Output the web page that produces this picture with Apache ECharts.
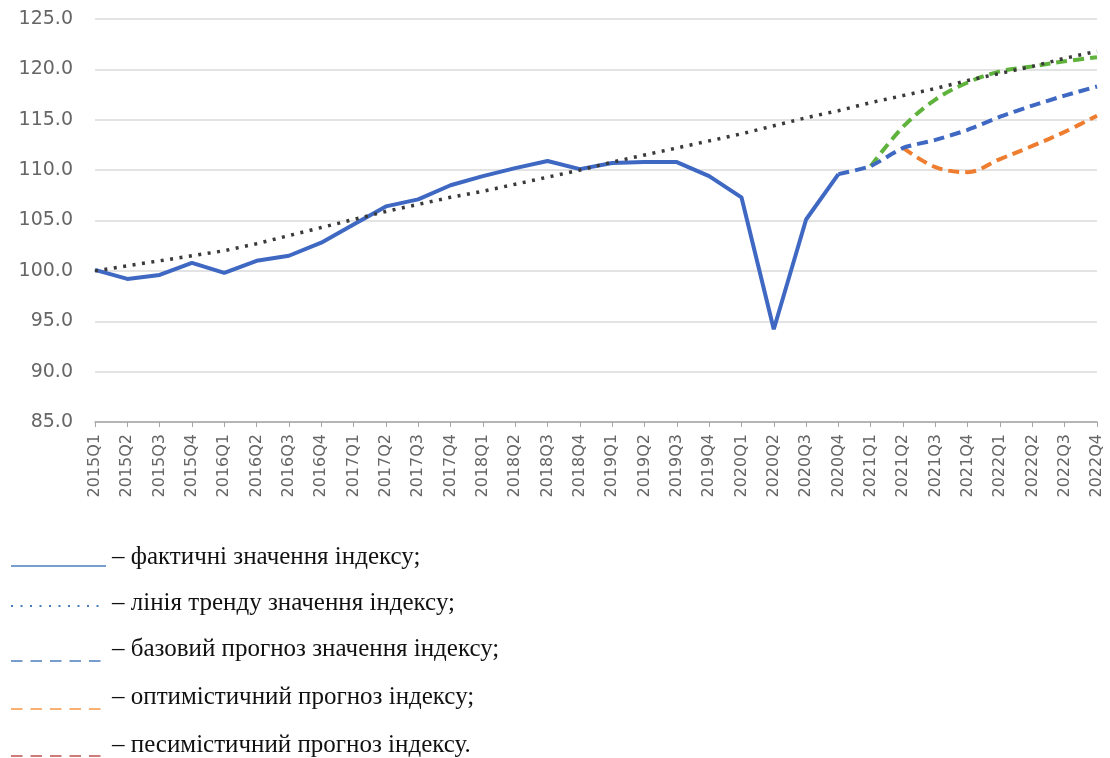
<!DOCTYPE html>
<html>
<head>
<meta charset="utf-8">
<script src="https://cdn.jsdelivr.net/npm/echarts@6/dist/echarts.min.js"></script>
<style>
  html, body { margin: 0; padding: 0; background: #fff; }
  #chart { width: 1110px; height: 758px; }
</style>
</head>
<body>
<div id="chart"></div>
<script>
var quarters = ['2015Q1','2015Q2','2015Q3','2015Q4','2016Q1','2016Q2','2016Q3','2016Q4',
  '2017Q1','2017Q2','2017Q3','2017Q4','2018Q1','2018Q2','2018Q3','2018Q4',
  '2019Q1','2019Q2','2019Q3','2019Q4','2020Q1','2020Q2','2020Q3','2020Q4',
  '2021Q1','2021Q2','2021Q3','2021Q4','2022Q1','2022Q2','2022Q3','2022Q4'];

// фактичні значення
var actual = [100.1, 99.2, 99.6, 100.8, 99.8, 101.0, 101.5, 102.8,
  104.6, 106.4, 107.1, 108.5, 109.4, 110.2, 110.9, 110.1,
  110.7, 110.8, 110.8, 109.4, 107.3, 94.2, 105.1, 109.6,
  null, null, null, null, null, null, null, null];

// лінія тренду
var trend = [100.0, 100.5, 101.0, 101.5, 102.0, 102.7, 103.5, 104.3,
  105.1, 105.9, 106.6, 107.3, 107.9, 108.6, 109.3, 110.0,
  110.8, 111.5, 112.2, 112.9, 113.6, 114.4, 115.2, 115.9,
  116.7, 117.4, 118.1, 118.9, 119.6, 120.3, 121.1, 121.8];

// базовий прогноз
var baseFc = [null, null, null, null, null, null, null, null,
  null, null, null, null, null, null, null, null,
  null, null, null, null, null, null, null, 109.6,
  110.4, 112.2, 113.0, 114.0, 115.3, 116.4, 117.4, 118.3];

// верхній (зелений) прогноз
var greenFc = [null, null, null, null, null, null, null, null,
  null, null, null, null, null, null, null, null,
  null, null, null, null, null, null, null, null,
  110.4, 114.3, 117.0, 118.7, 119.8, 120.3, 120.8, 121.2];

// нижній (помаранчевий) прогноз
var orangeFc = [null, null, null, null, null, null, null, null,
  null, null, null, null, null, null, null, null,
  null, null, null, null, null, null, null, null,
  null, 112.2, 110.3, 109.8, 111.1, 112.4, 113.8, 115.4];

var legendTexts = [
  '– фактичні значення індексу;',
  '– лінія тренду значення індексу;',
  '– базовий прогноз значення індексу;',
  '– оптимістичний прогноз індексу;',
  '– песимістичний прогноз індексу.'
];

var chart = echarts.init(document.getElementById('chart'));

// легенда знизу — малюється вручну, як у документі
var legendRows = [
  {lineY: 566, textY: 557, color: '#4a7ebb', dash: null},
  {lineY: 606, textY: 603, color: '#4a7ebb', dash: [2, 7.5]},
  {lineY: 661, textY: 649, color: '#4a7ebb', dash: [11.5, 8]},
  {lineY: 709, textY: 697, color: '#f79646', dash: [11.5, 8]},
  {lineY: 756, textY: 745, color: '#c0504d', dash: [11.5, 8]}
];
var graphics = [];
legendRows.forEach(function (r, i) {
  graphics.push({
    type: 'line',
    shape: {x1: 11, y1: r.lineY, x2: 106, y2: r.lineY},
    style: {stroke: r.color, lineWidth: i === 1 ? 2 : 1.5, lineDash: r.dash}
  });
  graphics.push({
    type: 'text',
    x: 112,
    y: r.textY,
    style: {
      text: legendTexts[i],
      fill: '#111',
      fontFamily: '"Liberation Serif", serif',
      fontSize: 25,
      verticalAlign: 'middle'
    }
  });
});

chart.setOption({
  backgroundColor: '#fff',
  animation: false,
  grid: {left: 95, right: 13, top: 19, bottom: 336},
  xAxis: {
    type: 'category',
    data: quarters,
    boundaryGap: false,
    axisLine: {lineStyle: {color: '#a6a6a6', width: 1.5}},
    axisTick: {show: true, length: 5, lineStyle: {color: '#a6a6a6'}},
    axisLabel: {
      rotate: 90,
      interval: 0,
      margin: 12,
      color: '#666',
      fontSize: 16,
      fontFamily: 'DejaVu Sans'
    },
    splitLine: {show: false}
  },
  yAxis: {
    type: 'value',
    min: 85,
    max: 125,
    interval: 5,
    axisLine: {show: false},
    axisTick: {show: false},
    axisLabel: {
      margin: 22,
      color: '#666',
      fontSize: 19,
      fontFamily: 'DejaVu Sans',
      formatter: function (v) { return v.toFixed(1); }
    },
    splitLine: {lineStyle: {color: '#dadada', width: 1.5}}
  },
  series: [
    {
      name: 'green',
      type: 'line',
      data: greenFc,
      smooth: 0.35,
      showSymbol: false,
      lineStyle: {color: '#5fb33c', width: 4, type: [11, 6]},
      z: 2
    },
    {
      name: 'orange',
      type: 'line',
      data: orangeFc,
      smooth: 0.35,
      showSymbol: false,
      lineStyle: {color: '#ee7d30', width: 4, type: [11, 6]},
      z: 2
    },
    {
      name: 'base',
      type: 'line',
      data: baseFc,
      smooth: 0.2,
      showSymbol: false,
      lineStyle: {color: '#3e68c2', width: 4, type: [11, 6]},
      z: 3
    },
    {
      name: 'actual',
      type: 'line',
      data: actual,
      showSymbol: false,
      lineStyle: {color: '#3e68c2', width: 4},
      z: 4
    },
    {
      name: 'trend',
      type: 'line',
      data: trend,
      showSymbol: false,
      lineStyle: {color: '#3a3a3a', width: 3.5, type: [3, 6.5]},
      z: 5
    }
  ],
  graphic: graphics
});
</script>
</body>
</html>
